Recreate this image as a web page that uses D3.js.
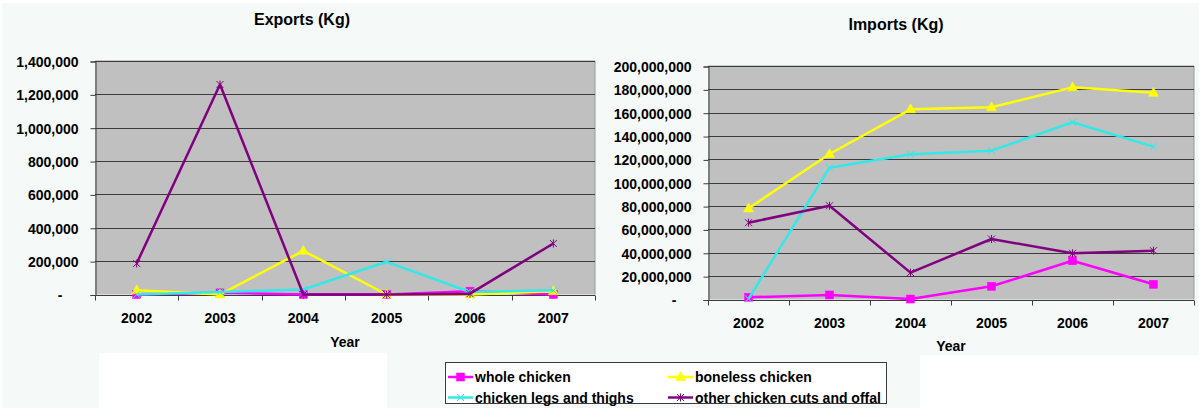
<!DOCTYPE html>
<html>
<head>
<meta charset="utf-8">
<script src="https://cdn.jsdelivr.net/npm/d3@7"></script>
<style>
  html, body { margin: 0; padding: 0; background: #ffffff; }
  svg { display: block; }
  text { font-family: "Liberation Sans", Arial, sans-serif; font-weight: bold; fill: #000; }
</style>
</head>
<body>
<svg id="chart" width="1199" height="408"></svg>
<script>
// Categories
const years = ["2002", "2003", "2004", "2005", "2006", "2007"];

// Series names and colours
const seriesNames = ["whole chicken", "boneless chicken", "chicken legs and thighs", "other chicken cuts and offal"];
const seriesColors = ["#ff00ff", "#ffff00", "#33e8e8", "#800080"];
const seriesMarkers = ["square", "triangle", "cross", "asterisk"];

// Exports (Kg)
const exportsWhole    = [0, 10000, 0, 0, 20000, 0];
const exportsBoneless = [25000, 0, 262000, 0, 0, 20000];
const exportsLegs     = [0, 15000, 30000, 196000, 15000, 25000];
const exportsOther    = [186000, 1259000, 0, 0, 5000, 306000];

// Imports (Kg)
const importsWhole    = [1900000, 3900000, 400000, 11300000, 33200000, 13000000];
const importsBoneless = [78000000, 124600000, 162900000, 164600000, 181700000, 177000000];
const importsLegs     = [500000, 112900000, 124400000, 127500000, 151800000, 130900000];
const importsOther    = [65800000, 80300000, 23000000, 51800000, 39600000, 41800000];

// Value-axis ticks
const exportTicks = [0, 200000, 400000, 600000, 800000, 1000000, 1200000, 1400000];
const importTicks = [0, 20000000, 40000000, 60000000, 80000000, 100000000, 120000000, 140000000, 160000000, 180000000, 200000000];

const svg = d3.select("#chart");
const fmt = d3.format(",");

// Page background
svg.append("rect").attr("x", 2).attr("y", 3).attr("width", 1197).attr("height", 405).attr("fill", "#f5f9f7");
// White blocks along the bottom edge
svg.append("rect").attr("x", 99).attr("y", 353).attr("width", 288).attr("height", 55).attr("fill", "#ffffff");
svg.append("rect").attr("x", 920).attr("y", 355).attr("width", 279).attr("height", 53).attr("fill", "#ffffff");

function drawMarker(g, type, color, x, y) {
  if (type === "square") {
    g.append("rect").attr("x", x - 4).attr("y", y - 4).attr("width", 8).attr("height", 8)
      .attr("fill", color).attr("stroke", color).attr("stroke-width", 0.5);
  } else if (type === "triangle") {
    g.append("path").attr("d", `M${x},${y - 5.5}L${x + 5},${y + 3.5}L${x - 5},${y + 3.5}Z`)
      .attr("fill", color).attr("stroke", color).attr("stroke-width", 0.5);
  } else if (type === "cross") {
    g.append("path").attr("d", `M${x - 3.5},${y - 3.5}L${x + 3.5},${y + 3.5}M${x - 3.5},${y + 3.5}L${x + 3.5},${y - 3.5}`)
      .attr("stroke", color).attr("stroke-width", 1).attr("fill", "none");
  } else {
    g.append("path").attr("d", `M${x - 3.5},${y - 3.5}L${x + 3.5},${y + 3.5}M${x - 3.5},${y + 3.5}L${x + 3.5},${y - 3.5}M${x},${y - 4}L${x},${y + 4}`)
      .attr("stroke", color).attr("stroke-width", 1).attr("fill", "none");
  }
}

function drawChart(cfg) {
  const g = svg.append("g");
  const x = d3.scaleBand().domain(years).range([cfg.left, cfg.right]).padding(0);
  const y = d3.scaleLinear().domain([0, cfg.max]).range([cfg.bottom, cfg.top]);
  const cx = d => x(d) + x.bandwidth() / 2;

  // Title
  g.append("text").attr("x", cfg.titleX).attr("y", cfg.titleY).attr("text-anchor", "middle")
    .style("font-size", "16px").text(cfg.title);

  // Plot area
  g.append("rect").attr("x", cfg.left).attr("y", cfg.top)
    .attr("width", cfg.right - cfg.left).attr("height", cfg.bottom - cfg.top)
    .attr("fill", "#c0c0c0");
  g.append("path").attr("d", `M${cfg.left},${cfg.top}H${cfg.right}V${cfg.bottom}`)
    .attr("stroke", "#9a9a9a").attr("stroke-width", 1).attr("fill", "none");

  // Gridlines
  g.selectAll(".grid").data(cfg.ticks.slice(1)).join("line")
    .attr("x1", cfg.left).attr("x2", cfg.right)
    .attr("y1", d => Math.round(y(d)) + 0.5).attr("y2", d => Math.round(y(d)) + 0.5)
    .attr("stroke", "#3c3c3c").attr("stroke-width", 1);

  // Value axis
  const yAxis = d3.axisLeft(y).tickValues(cfg.ticks).tickSize(5).tickFormat(d => d === 0 ? "" : fmt(d));
  const ya = g.append("g").attr("transform", `translate(${cfg.left + 0.5},0.5)`).call(yAxis);
  ya.select(".domain").attr("stroke", "#3c3c3c");
  ya.selectAll(".tick line").attr("stroke", "#3c3c3c");
  ya.selectAll(".tick text").attr("x", -cfg.labelGap).attr("dy", "0.36em")
    .style("font-size", "14px").style("font-family", "Liberation Sans, Arial, sans-serif").style("font-weight", "bold").attr("fill", "#000");
  // Zero shown as a dash
  g.append("text").attr("x", cfg.dashX).attr("y", y(0)).attr("dy", "0.36em").attr("text-anchor", "middle")
    .style("font-size", "14px").text("-");

  // Category axis
  const xa = g.append("g").attr("transform", `translate(0,${Math.round(cfg.bottom) + 0.5})`);
  xa.append("line").attr("x1", cfg.left).attr("x2", cfg.right).attr("stroke", "#3c3c3c");
  const bounds = years.map(d => x(d)).concat([cfg.right]);
  xa.selectAll(".xt").data(bounds).join("line")
    .attr("x1", d => Math.round(d) + 0.5).attr("x2", d => Math.round(d) + 0.5)
    .attr("y1", 0).attr("y2", 5).attr("stroke", "#3c3c3c");
  xa.selectAll(".xl").data(years).join("text")
    .attr("x", cx).attr("y", cfg.yearDy).attr("text-anchor", "middle")
    .style("font-size", "14px").text(d => d);

  // Axis title
  g.append("text").attr("x", cfg.axisTitleX).attr("y", cfg.axisTitleY).attr("text-anchor", "middle")
    .style("font-size", "14px").text("Year");

  // Lines
  const line = d3.line().x((d, i) => cx(years[i])).y(d => y(d));
  cfg.series.forEach((vals, s) => {
    g.append("path").datum(vals).attr("d", line)
      .attr("fill", "none").attr("stroke", seriesColors[s]).attr("stroke-width", 2.5)
      .attr("stroke-linejoin", "round");
    vals.forEach((v, i) => drawMarker(g, seriesMarkers[s], seriesColors[s], cx(years[i]), y(v)));
  });
}

drawChart({
  title: "Exports (Kg)", titleX: 302, titleY: 25,
  left: 95, right: 595, top: 61, bottom: 294.5,
  max: 1400000, ticks: exportTicks,
  series: [exportsWhole, exportsBoneless, exportsLegs, exportsOther],
  labelGap: 17, dashX: 60, yearDy: 27, axisTitleX: 345, axisTitleY: 347
});

drawChart({
  title: "Imports (Kg)", titleX: 896, titleY: 30,
  left: 708, right: 1194, top: 66, bottom: 299.5,
  max: 200000000, ticks: importTicks,
  series: [importsWhole, importsBoneless, importsLegs, importsOther],
  labelGap: 17, dashX: 674, yearDy: 27, axisTitleX: 951, axisTitleY: 351
});

// Legend
const legend = svg.append("g");
legend.append("rect").attr("x", 445.5).attr("y", 362.5).attr("width", 441).attr("height", 41)
  .attr("fill", "#ffffff").attr("stroke", "#3c3c3c").attr("stroke-width", 1);
const legendPos = [[448, 377], [668, 377], [448, 397.5], [668, 397.5]];
seriesNames.forEach((name, s) => {
  const [lx, ly] = legendPos[s];
  legend.append("line").attr("x1", lx).attr("x2", lx + 25).attr("y1", ly).attr("y2", ly)
    .attr("stroke", seriesColors[s]).attr("stroke-width", 2.5);
  drawMarker(legend, seriesMarkers[s], seriesColors[s], lx + 12.5, ly);
  legend.append("text").attr("x", lx + 27).attr("y", ly).attr("dy", "0.36em")
    .style("font-size", "14px").text(name);
});
</script>
</body>
</html>
